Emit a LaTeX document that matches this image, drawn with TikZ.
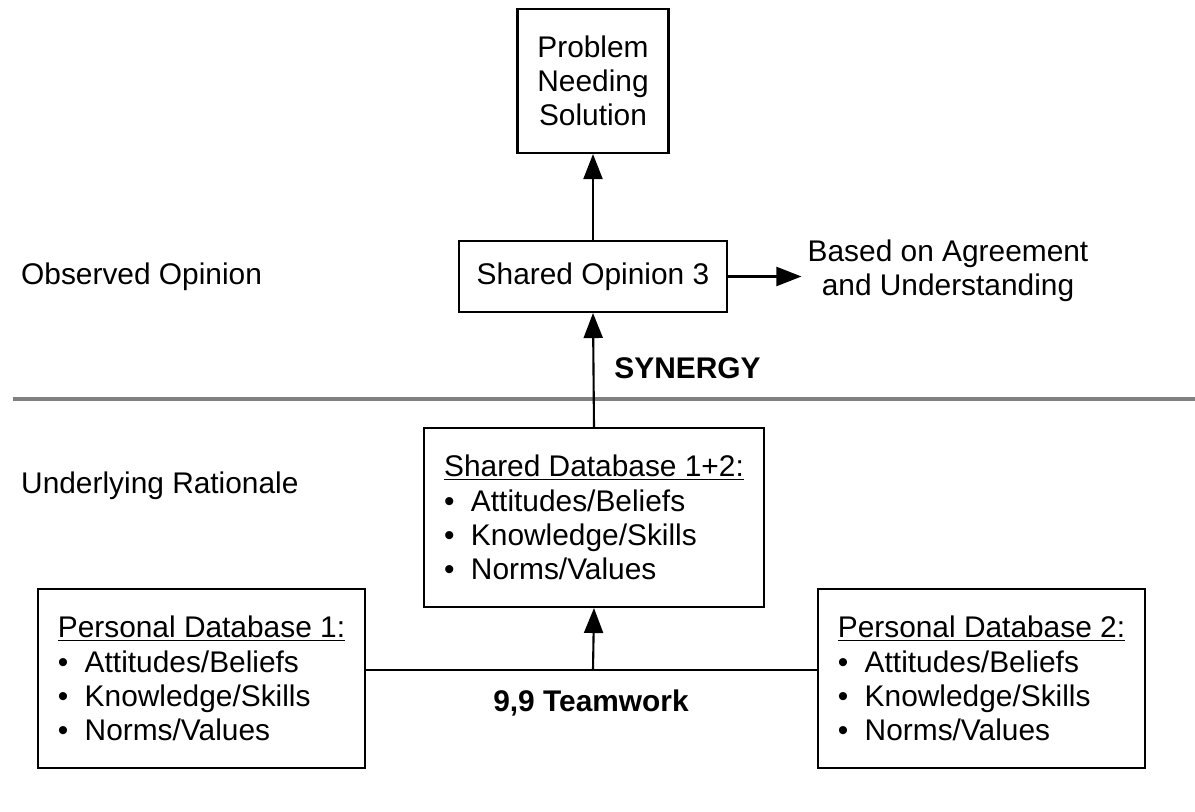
\documentclass[tikz,border=0pt]{standalone}
\usepackage{fontspec}
\setmainfont{Liberation Sans}
\usetikzlibrary{arrows.meta}
\tikzset{
  caja/.style={draw, line width=1.2pt, align=center},
  lista/.style={caja, align=left, minimum width=6.54cm, minimum height=3.58cm},
  flecha/.style={line width=1.2pt, -{Triangle[length=0.5cm,width=0.38cm]}},
}
\newcommand{\punto}{\textbullet\hspace{0.55em}}
\begin{document}
\begin{tikzpicture}[font=\fontsize{17}{19.5}\selectfont]
  \useasboundingbox (0,0) rectangle (23.9,16.22);
  % Nivel observado
  \node[caja, minimum width=3.02cm, minimum height=2.88cm] (problema) at (11.86,14.60) {Problem\\Needing\\Solution};
  \node[caja, minimum width=5.36cm, minimum height=1.42cm] (opinion) at (11.86,10.69) {Shared Opinion 3};
  \node[anchor=west] (observada) at (0.3,10.68) {Observed Opinion};
  \node[align=center] (acuerdo) at (18.96,10.80) {Based on Agreement\\and Understanding};
  \node (sinergia) at (13.75,8.85) {\bfseries SYNERGY};
  % Linea gris
  \coordinate (gris1) at (0.26,8.24);
  \coordinate (gris2) at (23.9,8.24);
  \draw[gray, line width=2.2pt] (gris1) -- (gris2);
  % Nivel de fondo
  \node[anchor=west] (razon) at (0.3,6.5) {Underlying Rationale};
  \node[lista, minimum width=6.8cm] (compartida) at (11.88,5.87) {\underline{Shared Database 1+2:}\\\punto Attitudes/Beliefs\\\punto Knowledge/Skills\\\punto Norms/Values};
  \node[lista] (personal1) at (4.03,2.65) {\underline{Personal Database 1:}\\\punto Attitudes/Beliefs\\\punto Knowledge/Skills\\\punto Norms/Values};
  \node[lista] (personal2) at (19.63,2.65) {\underline{Personal Database 2:}\\\punto Attitudes/Beliefs\\\punto Knowledge/Skills\\\punto Norms/Values};
  \node (equipo) at (11.82,2.16) {\bfseries 9,9 Teamwork};
  % Conexiones
  \coordinate (union) at (11.86,2.82);
  \draw[line width=1.2pt] (personal1.east |- union) -- (personal2.west |- union);
  \draw[flecha] (union) -- (compartida.south);
  \draw[flecha] (compartida.north) -- (opinion.south);
  \draw[flecha] (opinion.north) -- (problema.south);
  \draw[flecha] (opinion.east) -- (opinion.east -| acuerdo.west);
\end{tikzpicture}
\end{document}
